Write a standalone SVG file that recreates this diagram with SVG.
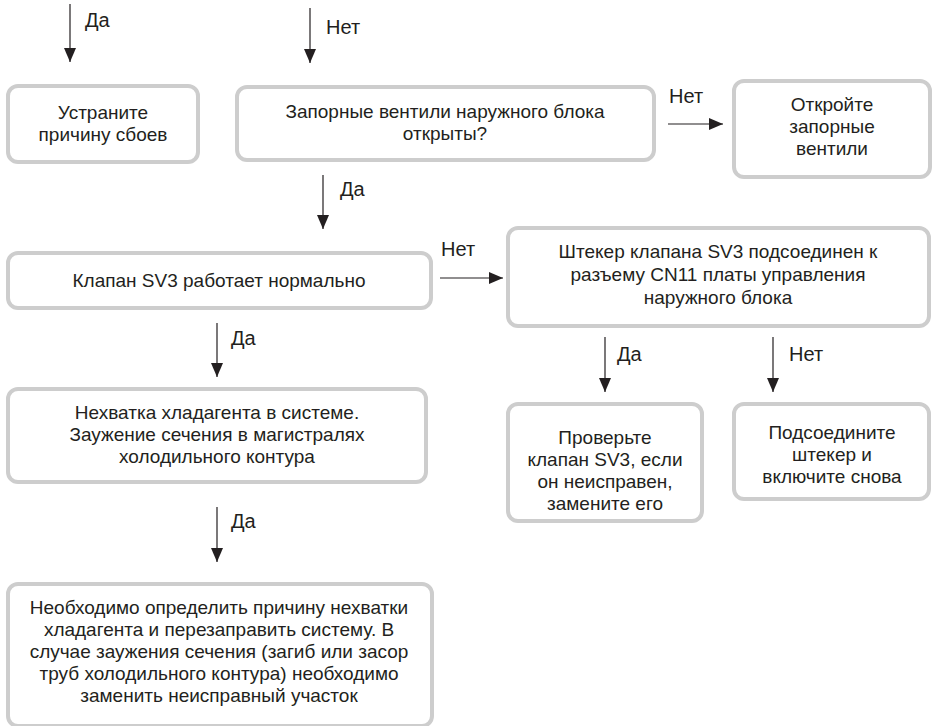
<svg xmlns="http://www.w3.org/2000/svg" width="933" height="726" viewBox="0 0 933 726">
<style>
.box{fill:#fff;stroke:#cdcdcd;stroke-width:4}
.t{font-family:"Liberation Sans",Arial,sans-serif;font-size:19px;fill:#231f20;text-anchor:middle}
.lbl{font-family:"Liberation Sans",Arial,sans-serif;font-size:20px;fill:#231f20}
.c{stroke:#231f20;stroke-width:1.2;fill:none;marker-end:url(#ah)}
</style>
<defs>
<marker id="ah" markerUnits="userSpaceOnUse" markerWidth="14" markerHeight="12" refX="14" refY="6" orient="auto">
<path d="M0,0 L14,6 L0,12 Z" fill="#231f20"/>
</marker>
</defs>
<rect width="933" height="726" fill="#fff"/>
<g id="connectors">
<line class="c" x1="70" y1="4" x2="70" y2="62"/>
<text class="lbl" x="85" y="27">Да</text>
<line class="c" x1="310" y1="8" x2="310" y2="63"/>
<text class="lbl" x="326" y="34">Нет</text>
<line class="c" x1="668" y1="124" x2="723" y2="124"/>
<text class="lbl" x="669" y="103">Нет</text>
<line class="c" x1="323" y1="175" x2="323" y2="229"/>
<text class="lbl" x="340" y="196">Да</text>
<line class="c" x1="440" y1="278" x2="503" y2="278"/>
<text class="lbl" x="441" y="256">Нет</text>
<line class="c" x1="217" y1="323" x2="217" y2="377"/>
<text class="lbl" x="231" y="345">Да</text>
<line class="c" x1="605" y1="337" x2="605" y2="392"/>
<text class="lbl" x="617" y="361">Да</text>
<line class="c" x1="773" y1="337" x2="773" y2="392"/>
<text class="lbl" x="789" y="361">Нет</text>
<line class="c" x1="217" y1="507" x2="217" y2="562"/>
<text class="lbl" x="231" y="528">Да</text>
</g>
<g id="n1">
<rect class="box" x="8" y="86" width="190" height="76" rx="10"/>
<text class="t" x="103" y="119">Устраните</text>
<text class="t" x="103" y="141">причину сбоев</text>
</g>
<g id="n2">
<rect class="box" x="237" y="87" width="417" height="73" rx="10"/>
<text class="t" x="445" y="118">Запорные вентили наружного блока</text>
<text class="t" x="445" y="140">открыты?</text>
</g>
<g id="n3">
<rect class="box" x="734" y="81" width="196" height="96" rx="10"/>
<text class="t" x="832" y="111">Откройте</text>
<text class="t" x="832" y="133">запорные</text>
<text class="t" x="832" y="155">вентили</text>
</g>
<g id="n4">
<rect class="box" x="8" y="253" width="423" height="55" rx="10"/>
<text class="t" x="219" y="287">Клапан SV3 работает нормально</text>
</g>
<g id="n5">
<rect class="box" x="508" y="228" width="421" height="98" rx="10"/>
<text class="t" x="718" y="258">Штекер клапана SV3 подсоединен к</text>
<text class="t" x="718" y="281">разъему CN11 платы управления</text>
<text class="t" x="718" y="304">наружного блока</text>
</g>
<g id="n6">
<rect class="box" x="8" y="389" width="418" height="93" rx="10"/>
<text class="t" x="217" y="419">Нехватка хладагента в системе.</text>
<text class="t" x="217" y="441">Заужение сечения в магистралях</text>
<text class="t" x="217" y="463">холодильного контура</text>
</g>
<g id="n7">
<rect class="box" x="8" y="584" width="424" height="142" rx="10"/>
<text class="t" x="219" y="614">Необходимо определить причину нехватки</text>
<text class="t" x="219" y="636">хладагента и перезаправить систему. В</text>
<text class="t" x="219" y="658">случае заужения сечения (загиб или засор</text>
<text class="t" x="219" y="680">труб холодильного контура) необходимо</text>
<text class="t" x="219" y="702">заменить неисправный участок</text>
</g>
<g id="n8">
<rect class="box" x="508" y="404" width="194" height="117" rx="10"/>
<text class="t" x="605" y="444">Проверьте</text>
<text class="t" x="605" y="466">клапан SV3, если</text>
<text class="t" x="605" y="488">он неисправен,</text>
<text class="t" x="605" y="510">замените его</text>
</g>
<g id="n9">
<rect class="box" x="734" y="404" width="195" height="95" rx="10"/>
<text class="t" x="832" y="439">Подсоедините</text>
<text class="t" x="832" y="461">штекер и</text>
<text class="t" x="832" y="483">включите снова</text>
</g>
</svg>
